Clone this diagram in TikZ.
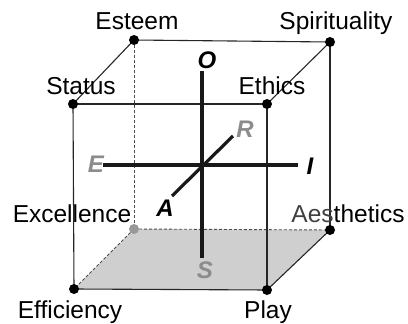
\documentclass[tikz,border=0pt]{standalone}
\usepackage{fontspec}
\setmainfont{Liberation Sans}
\begin{document}
\begin{tikzpicture}[x=1pt,y=-1pt,
  dot/.style={circle,fill=black,inner sep=0pt,minimum size=10pt},
  gdot/.style={circle,fill=black!40,inner sep=0pt,minimum size=10pt},
  edge/.style={draw=black!85,line width=1.1pt},
  hid/.style={draw=black!70,line width=0.9pt,dash pattern=on 3pt off 2pt},
  axis/.style={draw=black!90,line width=3.2pt},
  lbl/.style={anchor=base,inner sep=0pt,font=\fontsize{24.5}{28}\selectfont},
  ax/.style={inner sep=0pt,font=\fontsize{24}{28}\selectfont\bfseries\itshape},
  gax/.style={ax,text=black!45}]
\useasboundingbox (0,0) rectangle (408,324);
% corner coordinates
\coordinate (es) at (134,40);
\coordinate (sp) at (330,42);
\coordinate (st) at (73,104);
\coordinate (et) at (267,104);
\coordinate (ex) at (134,229);
\coordinate (ae) at (330,230);
\coordinate (ef) at (74,289);
\coordinate (pl) at (267,290);
% bottom face
\fill[black!19] (ef) -- (pl) -- (ae) -- (ex) -- cycle;
% hidden edges
\draw[hid] (es) -- (ex);
\draw[hid] (ex) -- (ae);
\draw[hid] (ex) -- (ef);
% visible edges
\draw[edge] (es) -- (sp);
\draw[edge] (st) -- (et);
\draw[edge] (st) -- (es);
\draw[edge] (et) -- (sp);
\draw[edge] (st) -- (ef);
\draw[edge] (et) -- (pl);
\draw[edge] (sp) -- (ae);
\draw[edge] (ef) -- (pl);
\draw[edge] (pl) -- (ae);
% axes
\coordinate (c) at (202,165);
\coordinate (o) at (202,71);
\coordinate (s) at (202,258);
\coordinate (e) at (103,165);
\coordinate (i) at (298,165);
\coordinate (r) at (233,136);
\coordinate (a) at (172,196);
\draw[axis] (o) -- (s);
\draw[axis] (e) -- (i);
\draw[axis] (a) -- (r);
% axis labels
\node[ax] (lo) at (207,60) {O};
\node[gax] (lr) at (245,129) {R};
\node[gax] (le) at (96,164) {E};
\node[ax] (li) at (310,166) {I};
\node[ax] (la) at (165,208) {A};
\node[gax] (ls) at (205,270) {S};
% dots
\node[dot] (des) at (es) {};
\node[dot] (dsp) at (sp) {};
\node[dot] (dst) at (st) {};
\node[dot] (det) at (et) {};
\node[gdot] (dex) at (ex) {};
\node[dot] (dae) at (ae) {};
\node[dot] (def) at (ef) {};
\node[dot] (dpl) at (pl) {};
% labels
\node[lbl] (tes) at (137,29) {Esteem};
\node[lbl] (tsp) at (336,29) {Spirituality};
\node[lbl] (tst) at (81,95) {Status};
\node[lbl] (tet) at (272,95) {Ethics};
\node[lbl] (tex) at (72,222) {Excellence};
\node[lbl] (tae) at (348,222) {{\color{black!75}Aes}thetics};
\node[lbl] (tef) at (70,318) {Efficiency};
\node[lbl] (tpl) at (268,318) {Play};
\end{tikzpicture}
\end{document}
